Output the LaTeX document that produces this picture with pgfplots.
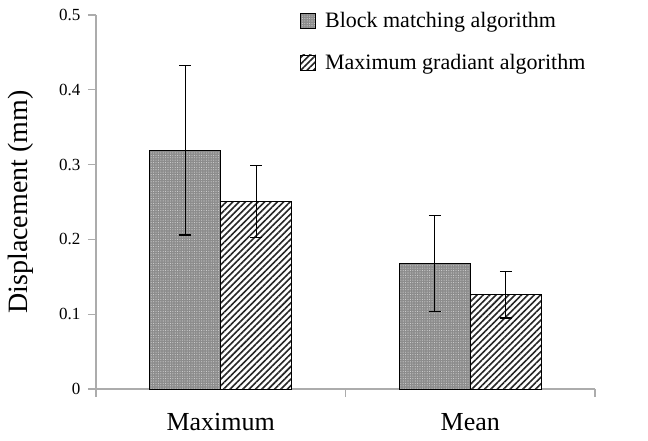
\documentclass[border=0pt]{standalone}
\usepackage{fontspec}
\setmainfont{Liberation Serif}
\usepackage{pgfplots}
\pgfplotsset{compat=1.18}
\usetikzlibrary{patterns,patterns.meta}

\tikzset{
  blockbar/.style={fill=gray!90, draw=black, line width=0.8bp,
    postaction={pattern={Dots[distance=2.4bp,radius=0.55bp]}, pattern color=white!65!gray}},
  gradbar/.style={fill=white, draw=black, line width=0.8bp,
    postaction={pattern={Lines[angle=45,distance=4.5bp,line width=1.6bp]}, pattern color=black!85}},
}

\begin{document}
\begin{tikzpicture}
\begin{axis}[
  at={(0,0)}, anchor=south west,
  scale only axis, width=499bp, height=374bp,
  xmin=-0.5, xmax=1.5, ymin=0, ymax=0.5,
  ybar=0pt, bar width=71bp,
  axis lines*=left,
  axis line style={gray!65, line width=1.2bp},
  every tick/.style={gray!65, line width=1.2bp},
  tick align=outside, major tick length=8bp,
  xtick={-0.5,0.5,1.5}, x tick label as interval,
  xticklabels={Maximum,Mean},
  xticklabel style={font=\fontsize{26bp}{30bp}\selectfont, yshift=-13bp},
  ytick={0,0.1,0.2,0.3,0.4,0.5},
  yticklabel style={font=\fontsize{17bp}{19bp}\selectfont, xshift=-4bp},
  /pgf/number format/assume math mode=true,
  ylabel={Displacement (mm)},
  every axis y label/.style={at={(ticklabel* cs:0.5,75bp)}, rotate=90, anchor=center,
    font=\fontsize{28bp}{30bp}\selectfont},
  legend style={at={(0.409,1.013)}, anchor=north west, draw=none, fill=none,
    font=\fontsize{22bp}{24bp}\selectfont, row sep=21bp, inner sep=0pt},
  legend cell align=left,
  legend image code/.code={\draw[#1] (0bp,-7.5bp) rectangle (15bp,7.5bp);
    \node[inner sep=0pt, minimum size=0pt] at (22bp,0bp) {};},
  error bars/y dir=both, error bars/y explicit,
  error bars/error bar style={black, line width=1.2bp},
  error bars/error mark options={rotate=90, mark size=6bp, line width=1.2bp, black},
]
\addplot[blockbar] coordinates {(0,0.319) +- (0,0.113) (1,0.168) +- (0,0.064)};
\addplot[gradbar] coordinates {(0,0.251) +- (0,0.048) (1,0.126) +- (0,0.031)};
\legend{Block matching algorithm, Maximum gradiant algorithm}
\end{axis}
\pgfresetboundingbox
\path[use as bounding box] (-96bp,-52bp) rectangle (552bp,389bp);
\end{tikzpicture}
\end{document}
